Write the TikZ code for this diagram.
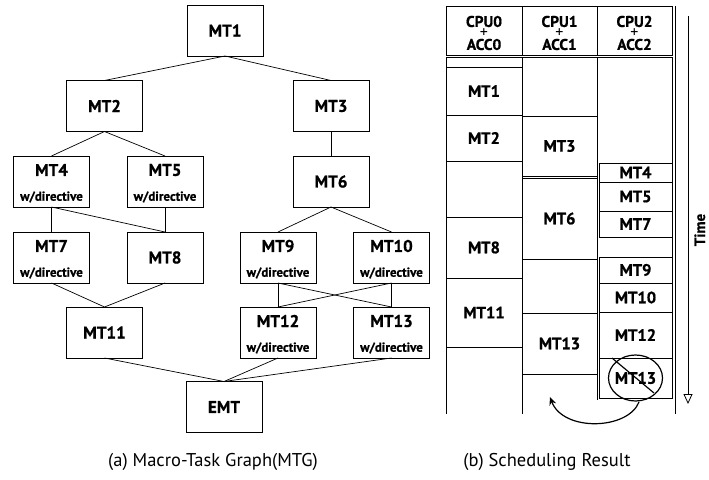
\documentclass[tikz,border=0pt]{standalone}
\usepackage{fontspec}
\setmainfont{PT Sans}[BoldFeatures={FakeBold=0.8}]
\usetikzlibrary{arrows.meta}
\newcommand\mkslot[6]{%
  \node[sbox, minimum width={((#4)-(#2))*1pt}, minimum height={((#5)-(#3))*1pt}]
    (#1) at ({((#2)+(#4))/2},{((#3)+(#5))/2}) {#6};}
\newcommand\dirbox[3]{%
  \node[gbox] (#1) at (#2) {};
  \node[mtlab] (#1t) at ([yshift=-14pt]#1.north) {#3};
  \node[dirlab] (#1d) at ([yshift=-41pt]#1.north) {w/directive};}
\newcommand\hdtext[2]{#1\\[-4.7pt]{\mdseries\fontsize{16}{16}\selectfont +}\\[-3.3pt]#2}
\begin{document}
\begin{tikzpicture}[x=1pt,y=-1pt,
  gbox/.style={draw, line width=0.9pt, minimum width=76pt, minimum height=51pt, inner sep=0pt, outer sep=0pt},
  mtlab/.style={font=\bfseries\fontsize{17}{17}\selectfont, inner sep=0pt},
  dirlab/.style={font=\bfseries\fontsize{13}{13}\selectfont, inner sep=0pt},
  edge/.style={line width=0.7pt},
  sbox/.style={draw, line width=0.9pt, inner sep=0pt, outer sep=0pt, font=\bfseries\fontsize{16.5}{16.5}\selectfont},
  hlab/.style={font=\bfseries\fontsize{15.5}{15.5}\selectfont, inner sep=0pt, align=center},
  captext/.style={font=\fontsize{18.5}{18.5}\selectfont, inner sep=0pt},
  col/.style={line width=0.9pt}
]
\useasboundingbox (0,0) rectangle (709,479);

% ---------- (a) Macro-Task Graph ----------
\node[gbox, mtlab] (m1) at (225,30.5) {MT1};
\node[gbox, mtlab] (m2) at (104.5,106) {MT2};
\node[gbox, mtlab] (m3) at (331,106) {MT3};
\dirbox{m4}{51.5,181.5}{MT4}
\dirbox{m5}{165,181.5}{MT5}
\node[gbox, mtlab] (m6) at (331,181.5) {MT6};
\dirbox{m7}{51.5,257.5}{MT7}
\node[gbox, mtlab] (m8) at (165,257.5) {MT8};
\dirbox{m9}{278,257.5}{MT9}
\dirbox{m10}{391.5,257.5}{MT10}
\node[gbox, mtlab] (m11) at (104.5,332.5) {MT11};
\dirbox{m12}{278,332.5}{MT12}
\dirbox{m13}{391.5,332.5}{MT13}
\node[gbox, mtlab] (emt) at (224,407) {EMT};

\draw[edge] (m1.south) -- (m2.north);
\draw[edge] (m1.south) -- (m3.north);
\draw[edge] (m2.south) -- (m4.north);
\draw[edge] (m2.south) -- (m5.north);
\draw[edge] (m3.south) -- (m6.north);
\draw[edge] (m4.south) -- (m7.north);
\draw[edge] (m4.south) -- (m8.north);
\draw[edge] (m5.south) -- (m8.north);
\draw[edge] (m6.south) -- (m9.north);
\draw[edge] (m6.south) -- (m10.north);
\draw[edge] (m7.south) -- (m11.north);
\draw[edge] (m8.south) -- (m11.north);
\draw[edge] (m9.south) -- (m12.north);
\draw[edge] (m9.south) -- (m13.north);
\draw[edge] (m10.south) -- (m12.north);
\draw[edge] (m10.south) -- (m13.north);
\draw[edge] (m11.south) -- (emt.north);
\draw[edge] (m12.south) -- (emt.north);
\draw[edge] (m13.south) -- (emt.north);

\node[captext] (capa) at (213,462) {(a) Macro-Task Graph(MTG)};

% ---------- (b) Scheduling Result ----------
\mkslot{h0}{446}{6}{522}{55}{}
\mkslot{h1}{522}{6}{597}{55}{}
\mkslot{h2}{597}{6}{672}{55}{}
\node[hlab] (h0t) at ([yshift=-2.5pt]h0.center) {\hdtext{CPU0}{ACC0}};
\node[hlab] (h1t) at ([yshift=-2.5pt]h1.center) {\hdtext{CPU1}{ACC1}};
\node[hlab] (h2t) at ([yshift=-2.5pt]h2.center) {\hdtext{CPU2}{ACC2}};

% column frame
\coordinate (c0t) at (446,57); \coordinate (c0b) at (446,414);
\coordinate (c1t) at (522,57); \coordinate (c1b) at (522,414);
\coordinate (c2t) at (597,57); \coordinate (c2b) at (597,400);
\coordinate (c3t) at (672,57); \coordinate (c3b) at (672,399);
\coordinate (c4t) at (675,6);  \coordinate (c4b) at (675,414);
\draw[col] (c0t) -- (c0b);
\draw[col] (c1t) -- (c1b);
\draw[col] (c2t) -- (c2b);
\draw[col] (c3t) -- (c3b);
\draw[col] (c4t) -- (c4b);
\draw[col] (c0t) -- (c3t);

% CPU0
\mkslot{s0}{446}{57}{522}{67}{}
\mkslot{s1}{446}{67}{522}{115}{MT1}
\mkslot{s2}{446}{115}{522}{161}{MT2}
\mkslot{s8}{446}{217}{522}{278}{MT8}
\mkslot{s11}{446}{278}{522}{347}{MT11}
% CPU1
\mkslot{s3}{522}{116}{597}{176}{MT3}
\mkslot{s6}{522}{178}{597}{259}{MT6}
\mkslot{s13}{522}{313}{597}{374}{MT13}
% CPU2
\mkslot{s4}{599}{163}{672}{182}{MT4}
\mkslot{s5}{599}{182}{672}{211}{MT5}
\mkslot{s7}{599}{211}{672}{237}{MT7}
\mkslot{s9}{599}{257}{672}{283}{MT9}
\mkslot{s10}{599}{283}{672}{312}{MT10}
\mkslot{s12}{599}{312}{672}{358}{MT12}
\mkslot{s13x}{599}{358}{672}{398}{MT13}

% crossed-out MT13
\draw[line width=1.2pt] (s13x.center) ellipse [x radius=27pt, y radius=23pt];
\draw[line width=1.2pt] ([shift={(-23.5,-20)}]s13x.center) -- ([shift={(18.5,15)}]s13x.center);

% moved-task arrow
\coordinate (ma) at (639,402);
\coordinate (mb) at (550,397);
\draw[line width=1.2pt, -{Stealth[length=8pt,width=7pt]}] (ma) .. controls (628,430) and (563,432) .. (mb);

% time axis
\coordinate (t0) at (688,16);
\coordinate (t1) at (688,404);
\draw[line width=0.8pt, -{Triangle[open,length=10pt,width=9pt]}] (t0) -- (t1);
\node[font=\bfseries\fontsize{15}{15}\selectfont, inner sep=0pt, rotate=90, anchor=base] (time) at (705,230) {Time};

\node[captext] (capb) at (547,462) {(b) Scheduling Result};
\end{tikzpicture}
\end{document}
